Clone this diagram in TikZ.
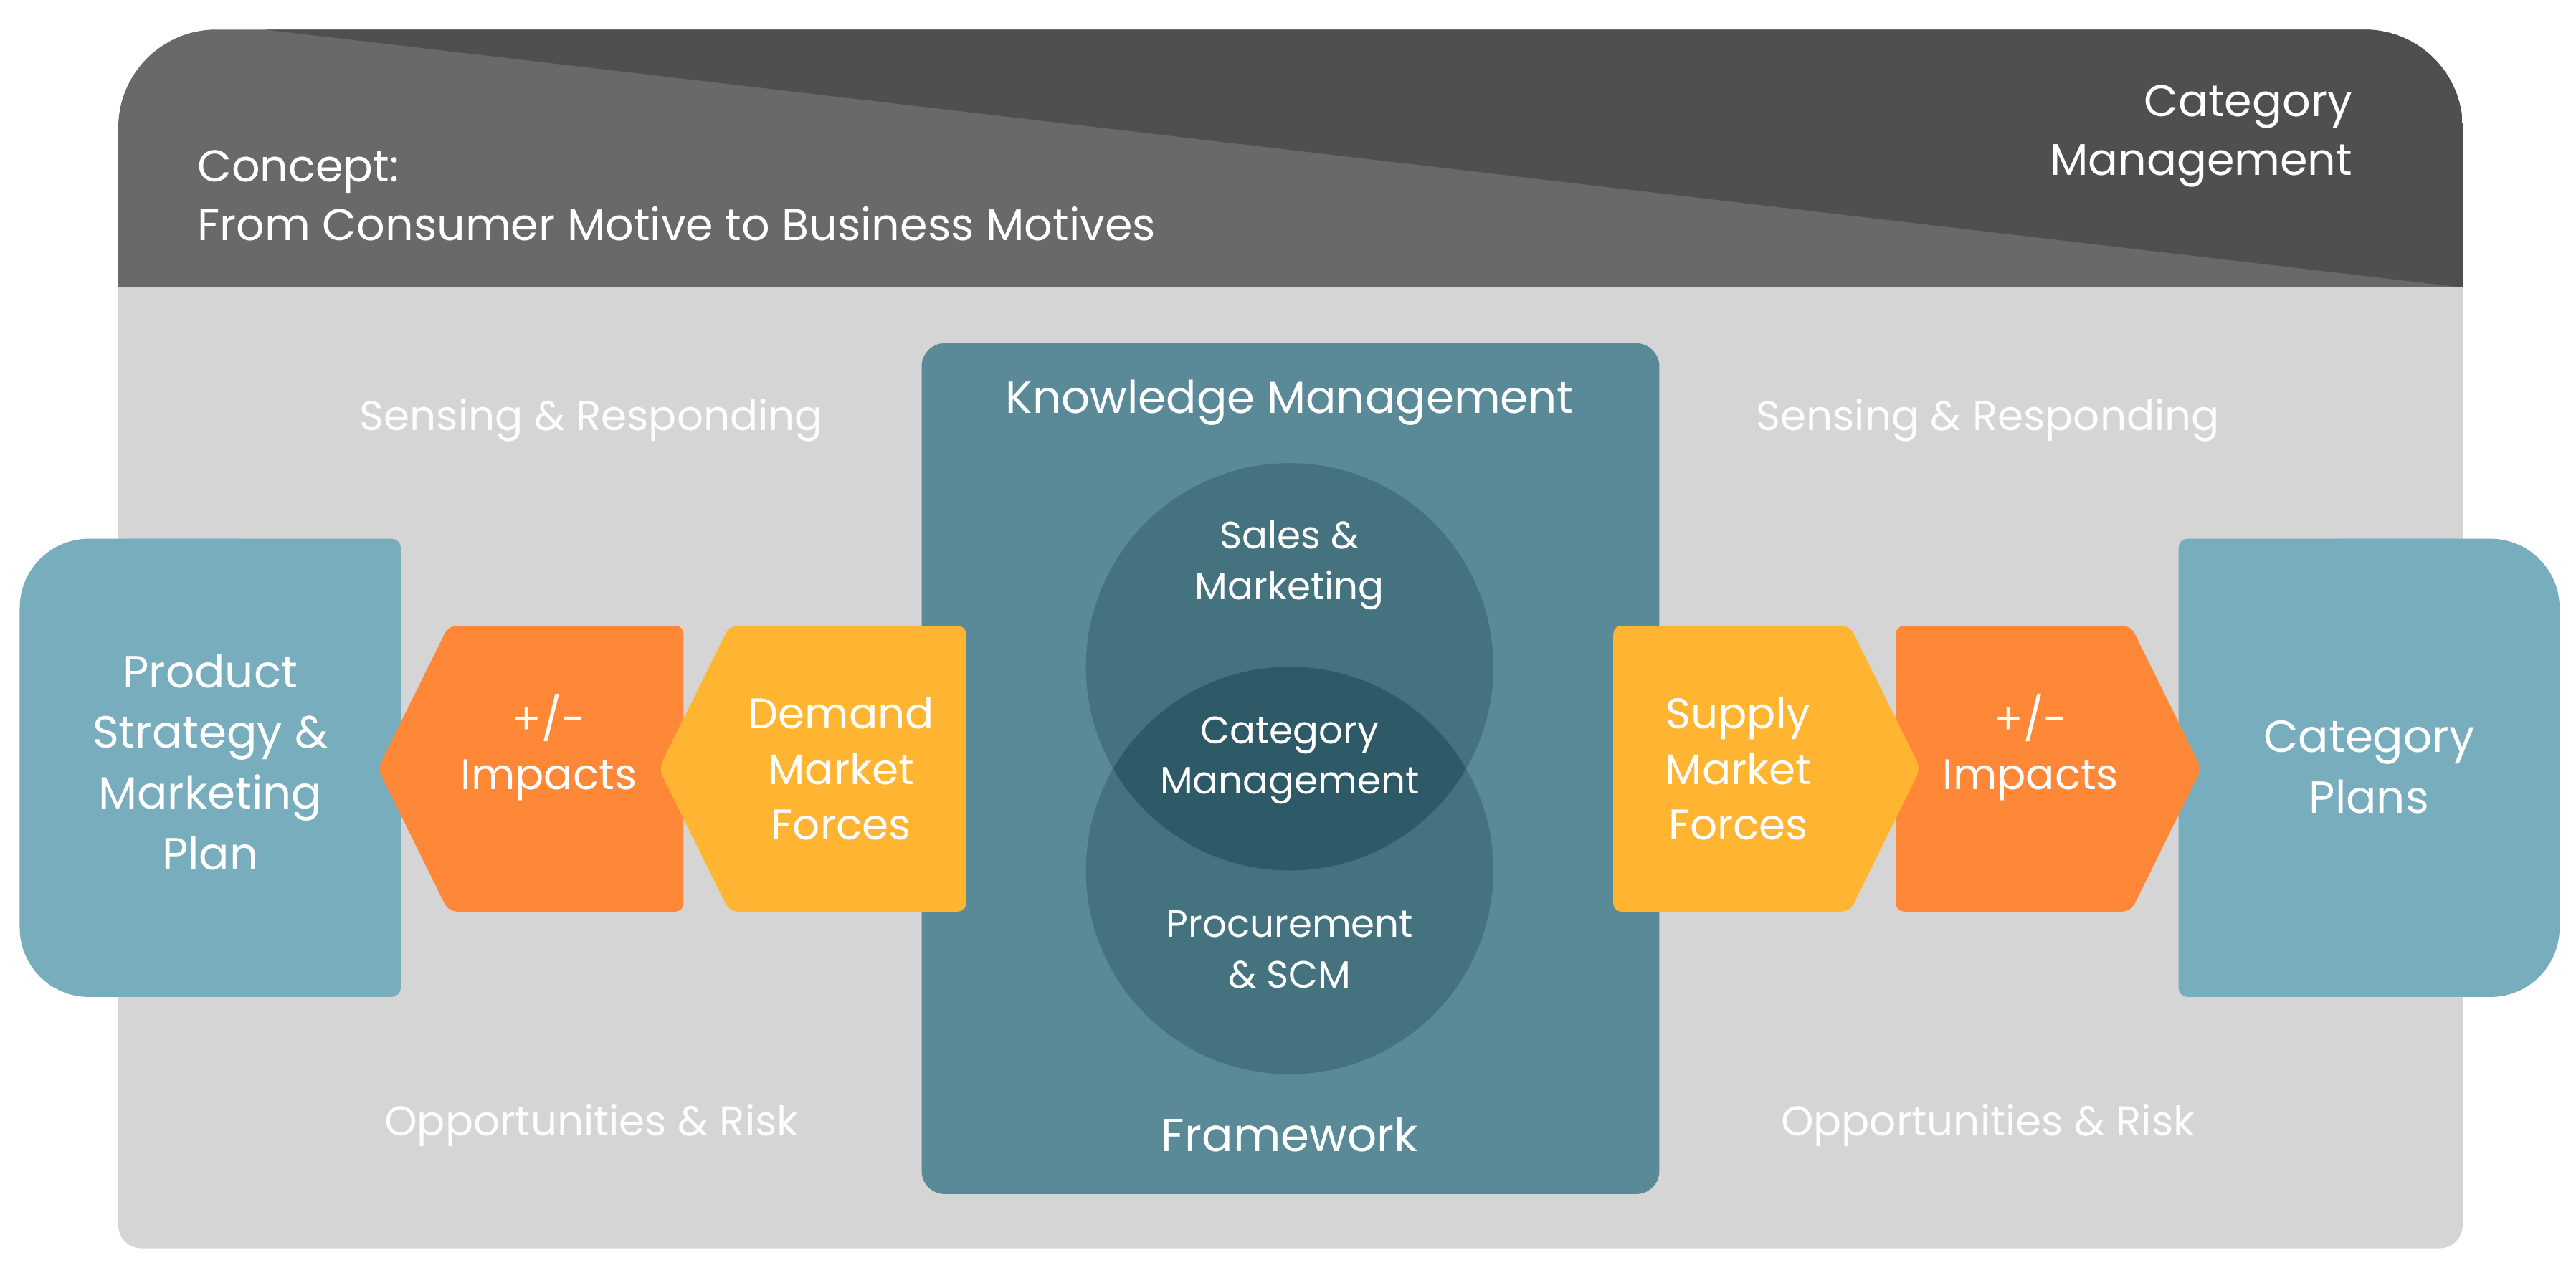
\documentclass[tikz,border=0pt]{standalone}
\usepackage{fontspec}
\setmainfont{Poppins}
\definecolor{hdrdark}{HTML}{4F4F4F}
\definecolor{hdrlight}{HTML}{696969}
\definecolor{bodygrey}{HTML}{D5D5D5}
\definecolor{kmteal}{HTML}{5A8A97}
\definecolor{circteal}{HTML}{44727F}
\definecolor{interteal}{HTML}{2E5966}
\definecolor{boxblue}{HTML}{77ADBC}
\definecolor{impactorange}{HTML}{FF8838}
\definecolor{forceyellow}{HTML}{FFB531}
\tikzset{
  txt/.style={text=white, align=center, inner sep=0pt},
  hdrtxt/.style={txt, font=\fontsize{38.5}{51}\selectfont},
  boxtxt/.style={txt, font=\fontsize{39}{52.6}\selectfont},
  arrtxt/.style={txt, font=\fontsize{37}{48}\selectfont},
  circtxt/.style={txt, font=\fontsize{33}{44}\selectfont},
  sidetxt/.style={txt, text=white!95!bodygrey, font=\fontsize{36}{40}\selectfont},
}
\begin{document}
\begin{tikzpicture}[x=0.5mm,y=-0.5mm]
  \useasboundingbox (0,0) rectangle (1568,778);
  % grey body and header
  \fill[bodygrey, rounded corners=20] (72,150) rectangle (1499,760);
  \begin{scope}
    \clip[rounded corners=85] (72,18) rectangle (1499,300);
    \clip (72,0) rectangle (1499,175);
    \fill[hdrlight] (72,0) rectangle (1499,175);
    \fill[hdrdark] (161,18) -- (1499,175) -- (1499,0) -- (161,0) -- cycle;
  \end{scope}
  % knowledge management box with the two circles
  \fill[kmteal, rounded corners=20] (561,209) rectangle (1010,727);
  \fill[circteal] (785,406) circle[radius=124];
  \fill[circteal] (785,530) circle[radius=124];
  \begin{scope}
    \clip (785,406) circle[radius=124];
    \fill[interteal] (785,530) circle[radius=124];
  \end{scope}
  % boxes and arrows, mirrored about the middle
  \foreach \s in {-1,1}{
    \begin{scope}[shift={(785,0)}, xscale=\s]
      \fill[boxblue, rounded corners=8] (713,328) rectangle (541,607);
      \fill[boxblue, rounded corners=60] (773,328) rectangle (600,607);
      \fill[impactorange, rounded corners=7] (555,468) -- (512,381) -- (369,381)
        -- (369,555) -- (512,555) -- cycle;
      \fill[forceyellow, rounded corners=7] (384,468) -- (341,381) -- (197,381)
        -- (197,555) -- (341,555) -- cycle;
    \end{scope}
  }
  % texts
  \node[hdrtxt, align=left, anchor=west] (concept) at (120,119)
    {Concept:\\From Consumer Motive to Business Motives};
  \node[hdrtxt, align=right, anchor=east] (catmgmt) at (1432,83)
    {Category\\Management};
  \node[sidetxt] (sense1) at (360,256) {Sensing \& Responding};
  \node[sidetxt] (sense2) at (1210,256) {Sensing \& Responding};
  \node[sidetxt] (risk1) at (360,685) {Opportunities \& Risk};
  \node[sidetxt] (risk2) at (1210,685) {Opportunities \& Risk};
  \node[txt, font=\fontsize{39}{44}\selectfont] (km) at (785,245) {Knowledge Management};
  \node[txt, font=\fontsize{40}{44}\selectfont] (frame) at (785,691) {Framework};
  \node[circtxt] (sales) at (785,344) {Sales \&\\Marketing};
  \node[circtxt] (cm) at (785,463) {Category\\Management};
  \node[circtxt] (proc) at (785,578) {Procurement\\\& SCM};
  \node[boxtxt] (product) at (128,464) {Product\\Strategy \&\\Marketing\\Plan};
  \node[boxtxt] (plans) at (1442,467) {Category\\Plans};
  \node[arrtxt] (impl) at (334,455) {+/-\\Impacts};
  \node[arrtxt] (impr) at (1236,455) {+/-\\Impacts};
  \node[arrtxt] (demand) at (512,468) {Demand\\Market\\Forces};
  \node[arrtxt] (supply) at (1058,468) {Supply\\Market\\Forces};
\end{tikzpicture}
\end{document}
